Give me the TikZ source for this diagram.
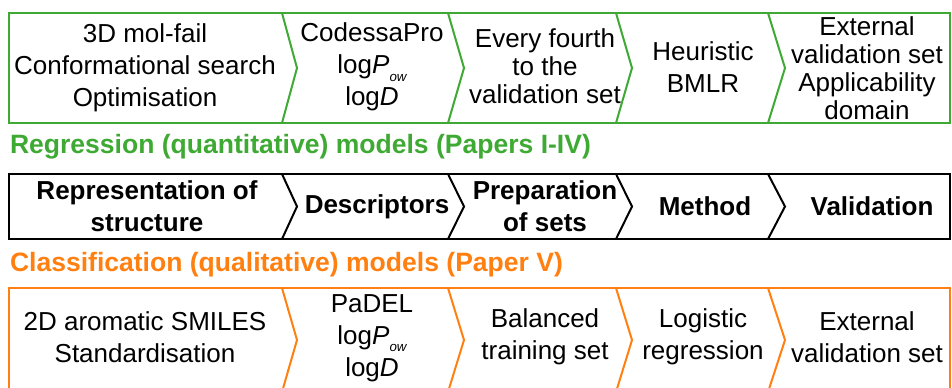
\documentclass[tikz,border=0pt]{standalone}
\usepackage{fontspec}
\setmainfont{Liberation Sans}
\usepackage{tikz}
\definecolor{reggreen}{RGB}{62,170,52}
\definecolor{clsorange}{RGB}{255,128,16}
\newcommand{\owsub}{\smash{\raisebox{-0.55ex}{\fontsize{10}{10}\selectfont\itshape ow}}}

\begin{document}
\begin{tikzpicture}[x=0.75pt,y=-0.75pt,line width=1.5pt,
                    step text/.style={align=center,inner sep=0pt,font=\fontsize{19.5}{24}\selectfont},
                    tight text/.style={step text,font=\fontsize{19.5}{21}\selectfont},
                    head text/.style={step text,font=\fontsize{19.5}{24}\selectfont\bfseries},
                    title text/.style={anchor=west,inner sep=0pt,font=\fontsize{19.9}{24}\selectfont\bfseries}]
  \useasboundingbox (0,0) rectangle (952,387);

  % frames: top / tip of chevrons / bottom, colour
  \foreach \top/\mid/\bot/\col in {13/68/123/reggreen,174/206.5/239/black,288/340/392/clsorange}{
    \draw[\col] (9,\top) rectangle (950,\bot);
    \foreach \a/\b in {282/297,448/464,616/632,768/785}
      \draw[\col,line join=miter] (\a,\top) -- (\b,\mid) -- (\a,\bot);
  }

  % regression row
  \node[step text] (structA) at (145,68) {3D mol-fail\\Conformational search\\Optimisation};
  \node[step text] (descA) at (372,67) {CodessaPro\\log\textit{P}\owsub\\log\textit{D}};
  \node[tight text] (setsA) at (545,66) {Every fourth\\to the\\validation set};
  \node[step text] (methA) at (703,67) {Heuristic\\BMLR};
  \node[tight text] (validA) at (867,68) {External\\validation set\\Applicability\\domain};

  \node[title text,text=reggreen] (regtitle) at (9,147) {Regression (quantitative) models (Papers I-IV)};

  % headings
  \node[head text] (structH) at (147,206.5) {Representation of\\structure};
  \node[head text] (descH) at (377,206.5) {Descriptors};
  \node[head text] (setsH) at (545,206.5) {Preparation\\of sets};
  \node[head text] (methH) at (705,206.5) {Method};
  \node[head text] (validH) at (872,206.5) {Validation};

  \node[title text,text=clsorange] (clstitle) at (9,265) {Classification (qualitative) models (Paper V)};

  % classification row
  \node[step text] (structB) at (145,337) {2D aromatic SMILES\\Standardisation};
  \node[step text] (descB) at (372,338) {PaDEL\\log\textit{P}\owsub\\log\textit{D}};
  \node[step text] (setsB) at (545,337) {Balanced\\training set};
  \node[step text] (methB) at (703,337) {Logistic\\regression};
  \node[step text] (validB) at (867,337) {External\\validation set};
\end{tikzpicture}
\end{document}
